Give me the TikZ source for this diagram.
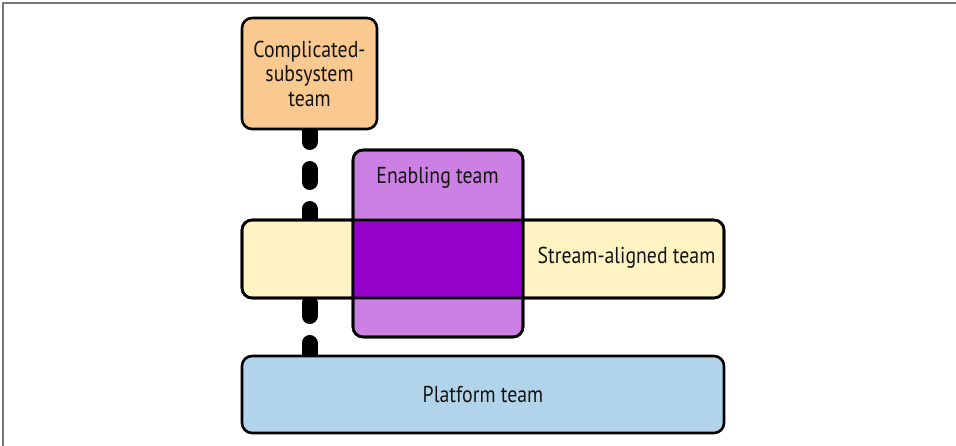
\documentclass[tikz,border=0pt]{standalone}
\usepackage{fontspec}
\setmainfont{PT Sans}[FakeStretch=0.86]
\usetikzlibrary{backgrounds}
\definecolor{csfill}{HTML}{F9C98F}
\definecolor{enfill}{HTML}{CC80E3}
\definecolor{ovfill}{HTML}{9500CB}
\definecolor{safill}{HTML}{FEF4C3}
\definecolor{pffill}{HTML}{B2D4EA}
\definecolor{txt}{HTML}{141414}
\definecolor{frame}{HTML}{777777}
\tikzset{
  box/.style={draw=black, line width=2.6pt, rounded corners=10pt, rectangle,
    outer sep=0pt, inner sep=0pt, align=center, text=txt, font=\fontsize{23}{24.5}\selectfont},
  boxline/.style={draw=black, line width=2.6pt, rounded corners=10pt},
  lbl/.style={text=txt, font=\fontsize{23}{24.5}\selectfont, inner sep=0pt, align=center},
  dashline/.style={draw=black, line width=16pt, line cap=round, dash pattern=on 13pt off 27pt},
}
\begin{document}
\begin{tikzpicture}[x=1pt, y=-1pt]
\useasboundingbox (0,0) rectangle (956,446);
\draw[frame, line width=1.2pt] (3,446) -- (3,3) -- (956,3);
% nodes
\node[box, fill=csfill, minimum width=135pt, minimum height=111pt] (cs) at (309.5,73.5) {Complicated-\\subsystem\\team};
\node[box, fill=safill, minimum width=482pt, minimum height=78pt] (sa) at (483,259) {};
\node[box, fill=enfill, minimum width=170pt, minimum height=187pt] (en) at (438,243.5) {};
\fill[ovfill] (en.west |- sa.north) rectangle (en.east |- sa.south);
\draw[boxline] (sa.south west) rectangle (sa.north east);
\draw[boxline] (en.south west) rectangle (en.north east);
\node[lbl] (entext) at (437.5,178) {Enabling team};
\node[lbl] (satext) at (626.5,258) {Stream-aligned team};
\node[box, fill=pffill, minimum width=482pt, minimum height=77pt] (pf) at (483,394.5) {Platform team};
% connectors
\begin{scope}[on background layer]
\draw[dashline] (cs.south) -- (cs.south |- sa.north);
\draw[dashline] (cs.south |- pf.north) -- (cs.south |- sa.south);
\end{scope}
\end{tikzpicture}
\end{document}
